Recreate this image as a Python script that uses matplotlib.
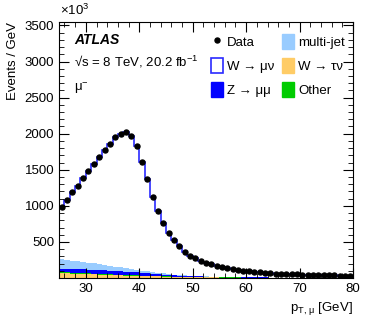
import numpy as np
import matplotlib.pyplot as plt
from matplotlib.patches import Patch
from matplotlib.lines import Line2D
from matplotlib.ticker import MultipleLocator

plt.rcParams['font.family'] = ['Liberation Sans', 'DejaVu Sans']
plt.rcParams['mathtext.fontset'] = 'custom'
plt.rcParams['mathtext.rm'] = 'Liberation Sans'
plt.rcParams['mathtext.it'] = 'Liberation Sans:italic'

# 1 GeV bins from 25 to 80 GeV, values in units of 10^3 events / GeV
edges = np.arange(25, 81, 1)
centers = edges[:-1] + 0.5

data = [982, 1083, 1190, 1282, 1385, 1482, 1583, 1671, 1768, 1857,
        1949, 2000, 2018, 1972, 1833, 1611, 1371, 1129, 931, 760,
        620, 523, 440, 360, 310, 273, 241, 210, 190, 170,
        153, 136, 125, 111, 99, 91, 84, 77, 71, 66,
        62, 58, 55, 52, 50, 48, 46, 44, 42, 40,
        38, 36, 35, 33, 32]

w_taunu = [68, 65, 62, 59, 56, 53, 50, 47, 44, 42,
           40, 37, 35, 33, 31, 29, 27, 25, 23, 21,
           19, 17, 15, 14, 13, 12, 11, 10, 9, 8,
           7, 6.5, 6, 5.5, 5, 4.5, 4, 3.5, 3, 3,
           3, 2.5, 2.5, 2, 2, 2, 2, 1.5, 1.5, 1.5,
           1.5, 1, 1, 1, 1]

other = [12, 12, 11, 11, 10, 10, 9, 9, 8, 8,
         7, 7, 6, 6, 6, 5, 5, 5, 4, 4,
         4, 4, 3, 3, 3, 3, 3, 2, 2, 2,
         2, 2, 2, 2, 1.5, 1.5, 1.5, 1.5, 1.5, 1.5,
         1, 1, 1, 1, 1, 1, 1, 1, 1, 1,
         1, 1, 1, 1, 1]

z_mumu = [45, 48, 50, 52, 54, 55, 56, 56, 55, 54,
          52, 50, 47, 44, 40, 36, 32, 28, 24, 21,
          18, 15, 13, 11, 10, 9, 8, 7, 6, 5.5,
          5, 4.5, 4, 4, 3.5, 3.5, 3, 3, 3, 2.5,
          2.5, 2.5, 2, 2, 2, 2, 1.5, 1.5, 1.5, 1.5,
          1.5, 1, 1, 1, 1]

multijet = [135, 127, 119, 111, 103, 95, 87, 80, 73, 66,
            60, 54, 48, 43, 38, 33, 29, 25, 21, 18,
            15, 12, 10, 8, 6, 5, 4, 3, 2, 2,
            1, 1, 1, 1, 0, 0, 0, 0, 0, 0,
            0, 0, 0, 0, 0, 0, 0, 0, 0, 0,
            0, 0, 0, 0, 0]

w_munu = [722, 831, 948, 1049, 1162, 1269, 1381, 1479, 1588, 1687,
          1790, 1852, 1882, 1846, 1718, 1508, 1278, 1046, 859, 696,
          564, 475, 399, 324, 278, 244, 215, 188, 171, 152,
          138, 122, 112, 99, 89, 82, 75, 69, 64, 59,
          55, 52, 49, 47, 45, 43, 41, 40, 38, 36,
          34, 33, 32, 30, 29]

fig = plt.figure(figsize=(3.74, 3.31), dpi=100)
ax = fig.add_axes([0.158, 0.160, 0.786, 0.774])

stack = [(w_taunu, '#ffcc66'), (other, '#00cc00'), (z_mumu, '#0000ff'), (multijet, '#99ccff')]
base = np.zeros(len(centers))
for vals, col in stack:
    top = base + np.array(vals, dtype=float)
    ax.stairs(top, edges, baseline=base, fill=True, color=col, lw=0)
    base = top
total = base + np.array(w_munu, dtype=float)
ax.stairs(total, edges, color='#2a2aff', lw=1.2)

ax.plot(centers, data, 'o', color='black', ms=3.6, zorder=5)

ax.set_xlim(25, 80)
ax.set_ylim(0, 3550)
ax.xaxis.set_major_locator(MultipleLocator(10))
ax.xaxis.set_minor_locator(MultipleLocator(2))
ax.yaxis.set_major_locator(MultipleLocator(500))
ax.yaxis.set_minor_locator(MultipleLocator(100))
ax.set_yticks([500, 1000, 1500, 2000, 2500, 3000, 3500])
ax.tick_params(which='both', direction='in', top=True, right=True, labelsize=9.5)
ax.tick_params(which='major', length=7)
ax.tick_params(which='minor', length=3.5)
for s in ax.spines.values():
    s.set_linewidth(0.8)

ax.set_ylabel('Events / GeV', fontsize=9.5, loc='top')
ax.set_xlabel(r'p$_{\mathrm{T,\,\mu}}$ [GeV]', fontsize=9.5, loc='right')
fig.text(0.160, 0.945, r'$\times$10$^{3}$', fontsize=9.5, va='bottom')

ax.text(0.05, 0.928, 'ATLAS', transform=ax.transAxes, fontsize=10,
        fontweight='bold', fontstyle='italic', va='center')
ax.text(0.05, 0.842, '\u221as = 8 TeV, 20.2 fb$^{\\mathrm{-1}}$',
        transform=ax.transAxes, fontsize=9.5, va='center')
ax.text(0.05, 0.74, '\u03bc$^{\\mathrm{-}}$', transform=ax.transAxes, fontsize=9.5, va='center')

handles = [
    Line2D([], [], marker='o', ls='none', color='black', ms=3.6),
    Patch(facecolor='white', edgecolor='#2a2aff', lw=1.2),
    Patch(facecolor='#0000ff', edgecolor='#0000ff'),
    Patch(facecolor='#99ccff', edgecolor='#99ccff'),
    Patch(facecolor='#ffcc66', edgecolor='#ffcc66'),
    Patch(facecolor='#00cc00', edgecolor='#00cc00'),
]
labels = ['Data', 'W \u2192 \u03bc\u03bd', 'Z \u2192 \u03bc\u03bc',
          'multi-jet', 'W \u2192 \u03c4\u03bd', 'Other']
ax.legend(handles, labels, ncol=2, frameon=False, fontsize=9.5,
          loc='upper left', bbox_to_anchor=(0.50, 0.975),
          handlelength=0.9, handleheight=1.4, handletextpad=0.3,
          labelspacing=0.68, columnspacing=0.6, borderaxespad=0)

fig.savefig('out.png', dpi=100)
